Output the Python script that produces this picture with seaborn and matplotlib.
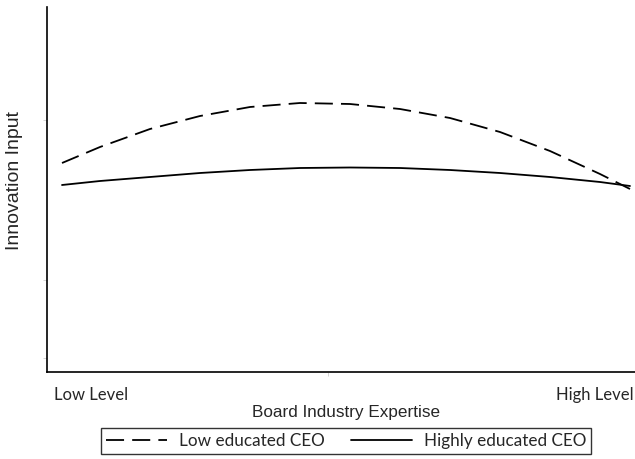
import matplotlib
matplotlib.use("Agg")
import matplotlib.pyplot as plt
import numpy as np
import pandas as pd
import seaborn as sns

# positions along the expertise axis
expertise = [15, 53, 103, 153, 203, 253, 303, 353, 403, 453, 503, 553, 583]
low_educated = [209, 225, 243, 256, 265, 269, 268, 263, 254, 240, 221, 198, 183]
highly_educated = [187, 191, 195, 199, 202, 204, 204.5, 204, 202, 199, 195, 190, 186]
groups = ["Low educated CEO", "Highly educated CEO"]

df = pd.DataFrame({
    "expertise": expertise * 2,
    "input": low_educated + highly_educated,
    "group": [groups[0]] * len(expertise) + [groups[1]] * len(expertise),
})

sns.set_style("white")
plt.rcParams["font.family"] = ["Liberation Sans", "DejaVu Sans"]

fig = plt.figure(figsize=(6.35, 4.59), dpi=100)
ax = fig.add_axes([47 / 635, 1 - 372 / 459, 588 / 635, 365 / 459])

sns.lineplot(
    data=df, x="expertise", y="input", style="group",
    dashes={groups[0]: (10, 4.5), groups[1]: ""},
    color="black", linewidth=1.3, ax=ax, legend=False,
)

ax.set_xlim(0, 588)
ax.set_ylim(0, 365)
for s in ["top", "right"]:
    ax.spines[s].set_visible(False)
for s in ["left", "bottom"]:
    ax.spines[s].set_color("black")
    ax.spines[s].set_linewidth(1.2)

ax.set_xticks([281])
ax.set_yticks([14, 92, 252])
ax.set_xticklabels([])
ax.set_yticklabels([])
ax.tick_params(axis="both", which="both", length=3, width=0.6, color="#cccccc",
               direction="out", left=True, bottom=True)

ax.set_xlabel("Board Industry Expertise", fontsize=12.3)
ax.set_ylabel("Innovation Input", fontsize=14)
ax.xaxis.set_label_coords(0.509, -0.090)
ax.yaxis.set_label_coords(-0.041, 0.525)

ax.text(0.012, -0.062, "Low Level", transform=ax.transAxes, fontsize=12,
        family=["Lato", "DejaVu Sans"], ha="left", va="center")
ax.text(0.997, -0.062, "High Level", transform=ax.transAxes, fontsize=12,
        family=["Lato", "DejaVu Sans"], ha="right", va="center")

handles = [
    plt.Line2D([], [], color="black", lw=1.3, dashes=(10, 4.5)),
    plt.Line2D([], [], color="black", lw=1.3),
]
leg = fig.legend(handles, groups, loc="center", bbox_to_anchor=(346 / 635, 1 - 441 / 459),
                 ncol=2, frameon=True, fancybox=False, handlelength=3.6,
                 columnspacing=1.5, borderpad=0.3, handletextpad=0.7,
                 prop={"family": ["Lato", "DejaVu Sans"], "size": 12.3})
leg.get_frame().set_edgecolor("black")
leg.get_frame().set_linewidth(1.0)

fig.savefig("out.png", dpi=100)
